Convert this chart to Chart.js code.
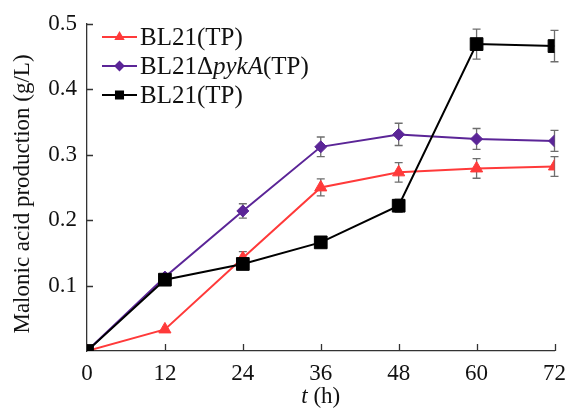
<!DOCTYPE html>
<html>
<head>
<meta charset="utf-8">
<script src="https://cdn.jsdelivr.net/npm/chart.js@4"></script>
<style>
  html, body { margin: 0; padding: 0; background: #fff; }
  #wrap { width: 575px; height: 410px; }
</style>
</head>
<body>
<div id="wrap"><canvas id="malonicChart" width="575" height="410"></canvas></div>
<script>
// sampling times (h)
const hours = [0, 12, 24, 36, 48, 60, 72];

// malonic acid production (g/L)
const bl21Values = [0, 0.033, 0.142, 0.250, 0.273, 0.279, 0.282];
const bl21Errors = [0, 0, 0.010, 0.013, 0.015, 0.015, 0.015];

const pykaValues = [0, 0.113, 0.214, 0.312, 0.331, 0.324, 0.321];
const pykaErrors = [0, 0, 0.011, 0.015, 0.017, 0.016, 0.016];

const bl21bValues = [0, 0.109, 0.133, 0.166, 0.222, 0.469, 0.466];
const bl21bErrors = [0, 0, 0, 0, 0.010, 0.023, 0.024];

const xTicks = [0, 12, 24, 36, 48, 60, 72];
const yTicks = [0, 0.1, 0.2, 0.3, 0.4, 0.5];

const serif = '"Liberation Serif", "Times New Roman", serif';

function toPoints(values) {
    return hours.map(function (h, i) { return { x: h, y: values[i] }; });
}

// gray error bars, drawn under the markers
const errorBars = {
    id: 'errorBars',
    beforeDatasetsDraw: function (chart) {
        const ctx = chart.ctx;
        const xs = chart.scales.x;
        const ys = chart.scales.y;
        const errs = [bl21Errors, pykaErrors, bl21bErrors];
        ctx.save();
        ctx.strokeStyle = '#6e6e6e';
        ctx.lineWidth = 1.3;
        chart.data.datasets.forEach(function (ds, d) {
            ds.data.forEach(function (p, i) {
                const e = errs[d][i];
                if (!e) return;
                const px = xs.getPixelForValue(p.x);
                const top = ys.getPixelForValue(p.y + e);
                const bot = ys.getPixelForValue(p.y - e);
                ctx.beginPath();
                ctx.moveTo(px, top); ctx.lineTo(px, bot);
                ctx.moveTo(px - 4, top); ctx.lineTo(px + 4, top);
                ctx.moveTo(px - 4, bot); ctx.lineTo(px + 4, bot);
                ctx.stroke();
            });
        });
        ctx.restore();
    }
};

// inward tick marks, axis titles and the legend
const decorations = {
    id: 'decorations',
    afterDraw: function (chart) {
        const ctx = chart.ctx;
        const xs = chart.scales.x;
        const ys = chart.scales.y;
        const area = chart.chartArea;
        ctx.save();
        ctx.strokeStyle = '#333';
        ctx.lineWidth = 1.3;
        ctx.beginPath();
        xTicks.forEach(function (t) {
            if (t === 0) return;
            const px = Math.round(xs.getPixelForValue(t)) + 0.5;
            ctx.moveTo(px, area.bottom); ctx.lineTo(px, area.bottom - 7);
        });
        yTicks.forEach(function (t) {
            if (t === 0) return;
            const py = Math.round(ys.getPixelForValue(t)) + 0.5;
            ctx.moveTo(area.left, py); ctx.lineTo(area.left + 6, py);
        });
        ctx.stroke();

        ctx.fillStyle = '#111';
        ctx.textBaseline = 'middle';

        // y axis title
        ctx.save();
        ctx.translate(23, 194);
        ctx.rotate(-Math.PI / 2);
        ctx.textAlign = 'center';
        ctx.font = '23px ' + serif;
        ctx.fillText('Malonic acid production (g/L)', 0, 0);
        ctx.restore();

        // x axis title with italic t
        ctx.textAlign = 'left';
        const cx = (area.left + area.right) / 2;
        ctx.font = 'italic 23px ' + serif;
        const tW = ctx.measureText('t').width;
        ctx.font = '23px ' + serif;
        const restW = ctx.measureText(' (h)').width;
        const x0 = cx - (tW + restW) / 2;
        ctx.font = 'italic 23px ' + serif;
        ctx.fillText('t', x0, 397);
        ctx.font = '23px ' + serif;
        ctx.fillText(' (h)', x0 + tW, 397);

        // legend
        const rows = [
            { color: '#ff3a3a', style: 'triangle', parts: [['BL21(TP)', false]], y: 37 },
            { color: '#5b2597', style: 'rectRot', parts: [['BL21\u0394', false], ['pykA', true], ['(TP)', false]], y: 66 },
            { color: '#000000', style: 'rect', parts: [['BL21(TP)', false]], y: 95 }
        ];
        rows.forEach(function (r) {
            ctx.strokeStyle = r.color;
            ctx.lineWidth = 2;
            ctx.beginPath();
            ctx.moveTo(102, r.y); ctx.lineTo(137, r.y);
            ctx.stroke();
            ctx.fillStyle = r.color;
            Chart.helpers.drawPoint(ctx, { pointStyle: r.style, radius: r.style === 'rect' ? 5 : 4, borderWidth: 1 }, 119.5, r.y);
            ctx.fill();
            let tx = 140;
            ctx.fillStyle = '#111';
            r.parts.forEach(function (p) {
                ctx.font = (p[1] ? 'italic ' : '') + '25px ' + serif;
                ctx.fillText(p[0], tx, r.y + 1);
                tx += ctx.measureText(p[0]).width;
            });
        });
        ctx.restore();
    }
};

const ctx = document.getElementById('malonicChart').getContext('2d');
new Chart(ctx, {
    type: 'line',
    data: {
        datasets: [{
            label: 'BL21(TP)',
            data: toPoints(bl21Values),
            borderColor: '#ff3a3a',
            backgroundColor: '#ff3a3a',
            borderWidth: 2,
            pointStyle: 'triangle',
            pointRadius: 7,
            pointBorderWidth: 1,
            order: 2
        }, {
            label: 'BL21\u0394pykA(TP)',
            data: toPoints(pykaValues),
            borderColor: '#5b2597',
            backgroundColor: '#5b2597',
            borderWidth: 2,
            pointStyle: 'rectRot',
            pointRadius: 6,
            pointBorderWidth: 1,
            order: 1
        }, {
            label: 'BL21(TP)',
            data: toPoints(bl21bValues),
            borderColor: '#000000',
            backgroundColor: '#000000',
            borderWidth: 2,
            pointStyle: 'rect',
            pointRadius: 9,
            pointBorderWidth: 1,
            order: 0
        }]
    },
    options: {
        responsive: false,
        animation: false,
        events: [],
        layout: { padding: { top: 18, right: 14, left: 0, bottom: 0 } },
        scales: {
            x: {
                type: 'linear',
                min: 0,
                max: 72,
                afterFit: function (s) { s.height = 59; },
                afterBuildTicks: function (s) { s.ticks = xTicks.map(function (v) { return { value: v }; }); },
                grid: { display: false, drawTicks: false },
                border: { display: true, color: '#333', width: 1.3 },
                ticks: {
                    color: '#111',
                    padding: 9,
                    maxRotation: 0,
                    font: { family: serif, size: 23 }
                }
            },
            y: {
                min: 0,
                max: 0.5,
                afterFit: function (s) { s.width = 87; },
                afterBuildTicks: function (s) { s.ticks = yTicks.map(function (v) { return { value: v }; }); },
                grid: { display: false, drawTicks: false },
                border: { display: true, color: '#333', width: 1.3 },
                ticks: {
                    color: '#111',
                    padding: 10,
                    font: { family: serif, size: 23 },
                    callback: function (v) { return v === 0 ? '' : v.toFixed(1); }
                }
            }
        },
        plugins: {
            legend: { display: false },
            tooltip: { enabled: false }
        }
    },
    plugins: [errorBars, decorations]
});
</script>
</body>
</html>
